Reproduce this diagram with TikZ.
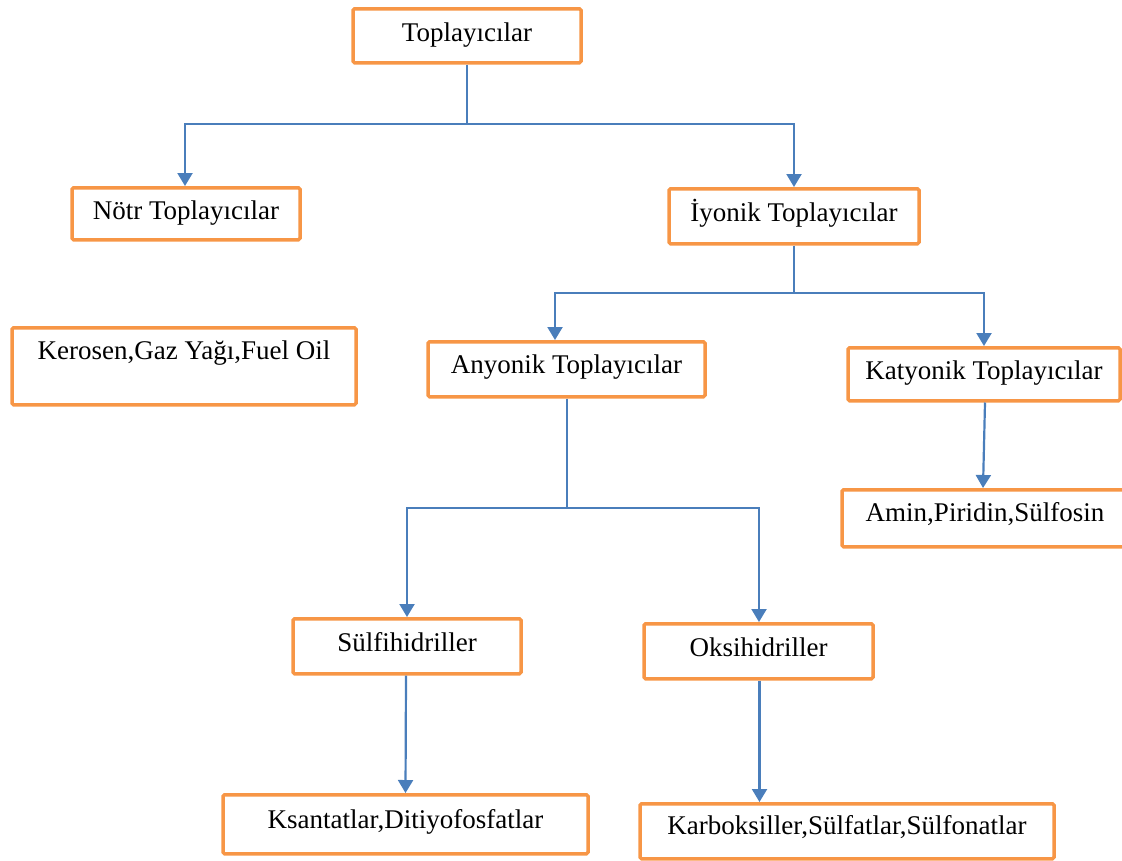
\documentclass[tikz,border=0pt]{standalone}
\usepackage{fontspec}
\setmainfont{Liberation Serif}
\usetikzlibrary{arrows.meta}
\definecolor{boxorange}{HTML}{F79646}
\definecolor{linkblue}{HTML}{4A7EBB}
\tikzset{
  orbox/.style n args={3}{draw=boxorange, line width=3.5pt, rounded corners=1.5pt,
    fill=white, inner sep=0pt, anchor=north, minimum width=#1,
    text height=#2, text depth=#3, font=\fontsize{27}{31}\selectfont},
  conn/.style={draw=linkblue, line width=2.2pt},
  arr/.style={conn, -{Triangle[width=15pt,length=13pt]}},
}
\begin{document}
\begin{tikzpicture}[x=1pt,y=-1pt]
\useasboundingbox (0,0) rectangle (1122,860);
% boxes: orbox={width}{baseline-top}{bottom-baseline}
\node[orbox={228pt}{33pt}{21pt}] (top) at (467,7) {Toplayıcılar};
\node[orbox={228pt}{32pt}{20pt}] (notr) at (186,186) {Nötr Toplayıcılar};
\node[orbox={250pt}{33pt}{22pt}] (iyonik) at (794,187) {İyonik Toplayıcılar};
\node[orbox={344pt}{32pt}{45pt}] (kerosen) at (184,326) {Kerosen,Gaz Yağı,Fuel Oil};
\node[orbox={277pt}{32pt}{23pt}] (anyonik) at (566.5,340) {Anyonik Toplayıcılar};
\node[orbox={272pt}{32pt}{21pt}] (katyonik) at (984,346) {Katyonik Toplayıcılar};
\node[orbox={286pt}{32pt}{25pt}] (amin) at (985,488) {Amin,Piridin,Sülfosin};
\node[orbox={228pt}{33pt}{22pt}] (sulfi) at (407,617) {Sülfihidriller};
\node[orbox={229pt}{33pt}{22pt}] (oksi) at (758.5,622) {Oksihidriller};
\node[orbox={365pt}{34pt}{25pt}] (ksant) at (405.5,793) {Ksantatlar,Ditiyofosfatlar};
\node[orbox={414pt}{31pt}{24pt}] (karb) at (847,802) {Karboksiller,Sülfatlar,Sülfonatlar};
% junctions
\coordinate (j1) at (467,124);
\coordinate (j2) at (794,293);
\coordinate (j3) at (567,508);
% connectors
\draw[conn] (top.south) -- (j1);
\draw[arr] (j1) -| ([xshift=-1pt]notr.north);
\draw[arr] (j1) -| (iyonik.north);
\draw[conn] (iyonik.south) -- (j2);
\draw[arr] (j2) -| ([xshift=-11.5pt]anyonik.north);
\draw[arr] (j2) -| (katyonik.north);
\draw[arr] ([xshift=1pt]katyonik.south) -- ([xshift=-2pt]amin.north);
\draw[conn] ([xshift=0.5pt]anyonik.south) -- (j3);
\draw[arr] (j3) -| (sulfi.north);
\draw[arr] (j3) -| ([xshift=0.5pt]oksi.north);
\draw[arr] ([xshift=-1pt]sulfi.south) -- (ksant.north);
\draw[arr] ([xshift=1pt]oksi.south) -- ([xshift=1pt]oksi.south |- karb.north);
\end{tikzpicture}
\end{document}
